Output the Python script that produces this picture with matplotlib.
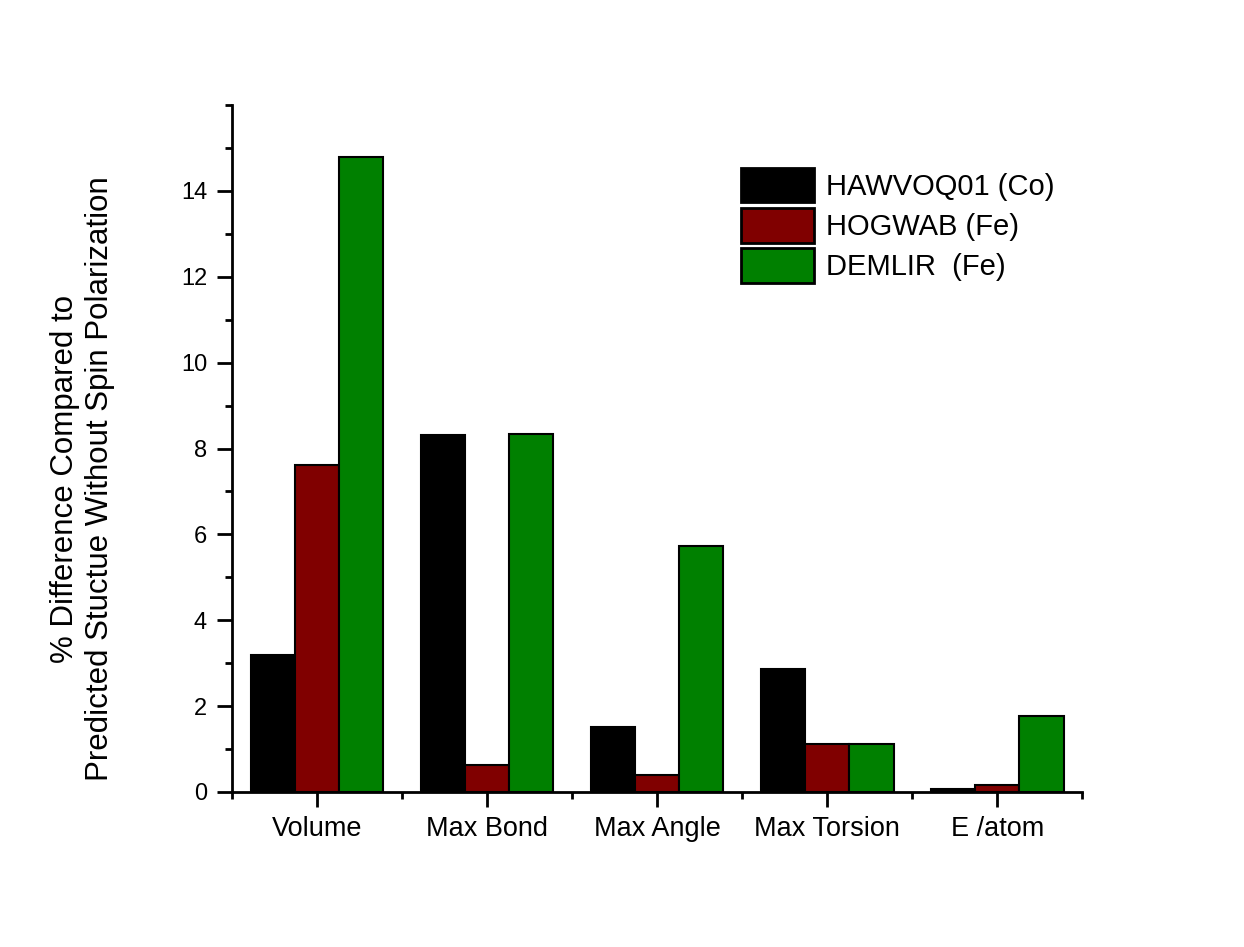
import numpy as np
import matplotlib.pyplot as plt
from matplotlib.ticker import MultipleLocator, FixedLocator

plt.rcParams['font.family'] = ['Liberation Sans', 'DejaVu Sans']

categories = ["Volume", "Max Bond", "Max Angle", "Max Torsion", "E /atom"]
series_names = ["HAWVOQ01 (Co)", "HOGWAB (Fe)", "DEMLIR  (Fe)"]
hawvoq01 = [3.19, 8.32, 1.51, 2.87, 0.07]
hogwab = [7.62, 0.63, 0.40, 1.12, 0.16]
demlir = [14.79, 8.34, 5.73, 1.12, 1.77]
colors = ["#000000", "#800000", "#008000"]

fig = plt.figure(figsize=(12.44, 9.47), dpi=100)
ax = fig.add_axes([0.1865, 0.1637, 0.6835, 0.7253])

x = np.arange(len(categories))
width = 0.26
for i, (vals, name) in enumerate(zip([hawvoq01, hogwab, demlir], series_names)):
    ax.bar(x + (i - 1) * width, vals, width, color=colors[i], edgecolor="black",
           linewidth=1.5, label=name)

ax.set_xlim(-0.5, 4.5)
ax.set_ylim(0, 16)
ax.set_xticks(x)
ax.set_xticklabels(categories)
ax.xaxis.set_minor_locator(FixedLocator(np.arange(-0.5, 5.0, 1.0)))
ax.yaxis.set_major_locator(FixedLocator(np.arange(0, 15, 2)))
ax.yaxis.set_minor_locator(MultipleLocator(1))

for side in ["top", "right"]:
    ax.spines[side].set_visible(False)
for side in ["left", "bottom"]:
    ax.spines[side].set_linewidth(2)

ax.tick_params(axis="both", which="major", direction="out", length=11, width=2)
ax.tick_params(axis="both", which="minor", direction="out", length=5, width=2)
ax.tick_params(axis="x", which="major", labelsize=19.5, pad=6)
ax.tick_params(axis="y", which="major", labelsize=17, pad=7)

ax.set_ylabel("% Difference Compared to\nPredicted Stuctue Without Spin Polarization",
              fontsize=22.5)
ax.yaxis.set_label_coords(-0.138, 0.456)

leg = ax.legend(loc="upper left", bbox_to_anchor=(0.582, 0.93), frameon=False,
                fontsize=21, handlelength=2.5, handleheight=1.45, handletextpad=0.4,
                labelspacing=0.19, borderpad=0)
for patch in leg.get_patches():
    patch.set_linewidth(2)

fig.savefig("out.png", dpi=100)
